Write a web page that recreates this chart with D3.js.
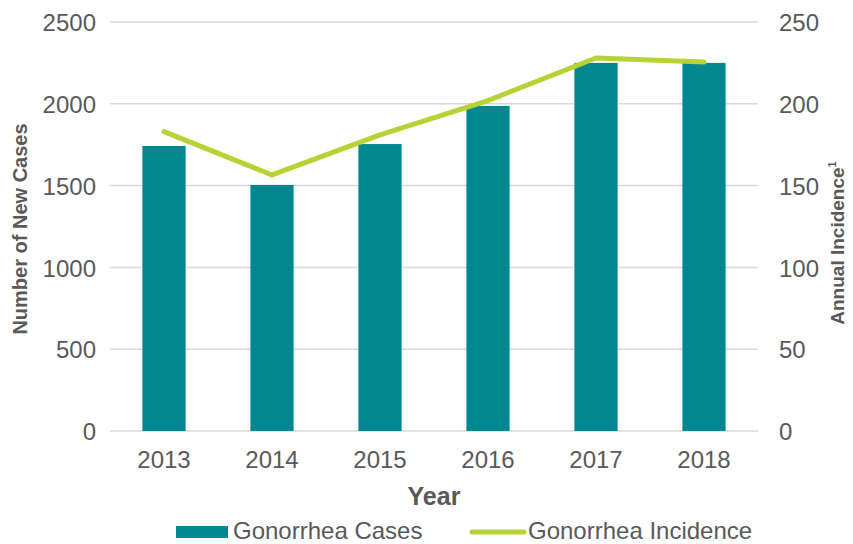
<!DOCTYPE html>
<html><head><meta charset="utf-8">
<script src="https://cdn.jsdelivr.net/npm/d3@7"></script>
<style>body{margin:0;background:#fff}svg{display:block}text{font-family:"Liberation Sans",Arial,sans-serif;fill:#595959}</style>
</head><body><svg id="c" width="853" height="544"></svg>
<script>
const years = ["2013","2014","2015","2016","2017","2018"];
const cases = [1742, 1504, 1754, 1987, 2250, 2250];
const incidence = [183, 156.5, 181, 202, 228, 225.5];
const leftTicks = [0, 500, 1000, 1500, 2000, 2500];
const rightTicks = [0, 50, 100, 150, 200, 250];

const FONT = "Liberation Sans, Arial, sans-serif";
const svg = d3.select("#c");
const x = d3.scaleBand().domain(years).range([110, 758]).paddingInner(0.6).paddingOuter(0.3);
const yL = d3.scaleLinear().domain([0, 2500]).range([431, 22]);
const yR = d3.scaleLinear().domain([0, 250]).range([431, 22]);

// gridlines
svg.append("g").selectAll("line").data(leftTicks).join("line")
  .attr("x1", 110).attr("x2", 758)
  .attr("y1", d => yL(d)).attr("y2", d => yL(d))
  .attr("stroke", "#d9d9d9").attr("stroke-width", 1.5);

// left axis labels
const axL = svg.append("g").attr("transform", "translate(96,0)")
  .call(d3.axisLeft(yL).tickValues(leftTicks).tickFormat(d3.format("d")).tickSize(0).tickPadding(0));
axL.select(".domain").remove();
axL.selectAll("text").attr("font-size", 24).attr("fill", "#595959").attr("font-family", FONT).attr("dy", "0.36em");

const axR = svg.append("g").attr("transform", "translate(779,0)")
  .call(d3.axisRight(yR).tickValues(rightTicks).tickFormat(d3.format("d")).tickSize(0).tickPadding(0));
axR.select(".domain").remove();
axR.selectAll("text").attr("font-size", 24).attr("fill", "#595959").attr("font-family", FONT).attr("dy", "0.36em");

// bars
svg.append("g").selectAll("rect").data(years).join("rect")
  .attr("x", d => x(d)).attr("width", x.bandwidth())
  .attr("y", (d, i) => yL(cases[i])).attr("height", (d, i) => yL(0) - yL(cases[i]))
  .attr("fill", "#00878f");

// x axis labels
const axX = svg.append("g").attr("transform", "translate(0,450)")
  .call(d3.axisBottom(x).tickSize(0).tickPadding(0));
axX.select(".domain").remove();
axX.selectAll("text").attr("font-size", 24).attr("fill", "#595959").attr("font-family", FONT).attr("dy", "0.75em");

// line
const line = d3.line().x((d, i) => x(years[i]) + x.bandwidth() / 2).y(d => yR(d));
svg.append("path").datum(incidence).attr("d", line)
  .attr("fill", "none").attr("stroke", "#b5d334").attr("stroke-width", 5)
  .attr("stroke-linecap", "round").attr("stroke-linejoin", "round");

// titles
svg.append("text").attr("x", 434).attr("y", 505).attr("text-anchor", "middle")
  .attr("font-size", 25).attr("font-weight", "bold").text("Year");
svg.append("text").attr("transform", "translate(27,229) rotate(-90)").attr("text-anchor", "middle")
  .attr("font-size", 20).attr("font-weight", "bold").text("Number of New Cases");
const rt = svg.append("text").attr("transform", "translate(844,243) rotate(-90)").attr("text-anchor", "middle")
  .attr("font-size", 19).attr("font-weight", "bold");
rt.append("tspan").text("Annual Incidence");
rt.append("tspan").attr("font-size", 11).attr("dy", "-0.7em").text("1");

// legend
const lg = svg.append("g");
lg.append("rect").attr("x", 176).attr("y", 526).attr("width", 52).attr("height", 12).attr("fill", "#00878f");
lg.append("text").attr("x", 233).attr("y", 539).attr("font-size", 24).text("Gonorrhea Cases");
lg.append("line").attr("x1", 472).attr("x2", 524).attr("y1", 532).attr("y2", 532)
  .attr("stroke", "#b5d334").attr("stroke-width", 5).attr("stroke-linecap", "round");
lg.append("text").attr("x", 528).attr("y", 539).attr("font-size", 24).text("Gonorrhea Incidence");
</script></body></html>
